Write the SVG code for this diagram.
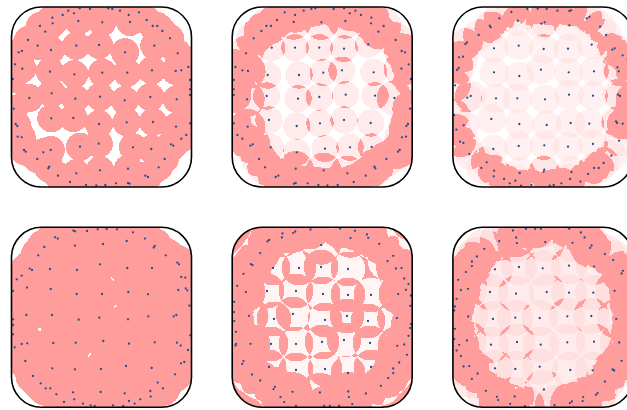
<svg xmlns="http://www.w3.org/2000/svg" width="627" height="410" viewBox="0 0 627 410">
<style>
.fr{fill:none;stroke:#000;stroke-width:1.6}
.cv circle{fill:#000;fill-opacity:.32}
.r14 circle{r:14px}
.r145 circle{r:14.5px}
.r15 circle{r:15px}
.r178 circle{r:17.8px}
.r18 circle{r:18px}
.r185 circle{r:18.5px}
.b16 circle{r:16px}
.b18 circle{r:18px}
.b20 circle{r:20px}
.pk{fill:#ff9c9c}
.dt{fill:none;stroke:#24508f;stroke-width:2.3;stroke-linecap:round}
</style>
<defs>
<clipPath id="cl"><rect width="180" height="180" rx="30"/></clipPath>
<filter id="f1" color-interpolation-filters="sRGB"><feComponentTransfer in="SourceAlpha" result="a"><feFuncA type="discrete" tableValues="0 0 0 0 0 0 1 1 1 1 1 1 1 1 1 1 1 1 1 1"/></feComponentTransfer><feFlood flood-color="#ff9c9c"/><feComposite in2="a" operator="in"/></filter>
<filter id="f2" color-interpolation-filters="sRGB"><feComponentTransfer in="SourceAlpha" result="a"><feFuncA type="discrete" tableValues="0 0 0 0 0 0 .2 .2 .2 .2 1 1 1 1 1 1 1 1 1 1"/></feComponentTransfer><feFlood flood-color="#ff9c9c"/><feComposite in2="a" operator="in"/></filter>
<filter id="f3" color-interpolation-filters="sRGB"><feComponentTransfer in="SourceAlpha" result="a"><feFuncA type="discrete" tableValues="0 0 0 0 0 0 .14 .14 .14 .14 .25 .25 .25 1 1 1 1 1 1 1"/></feComponentTransfer><feFlood flood-color="#ff9c9c"/><feComposite in2="a" operator="in"/></filter>
<filter id="f5" color-interpolation-filters="sRGB"><feComponentTransfer in="SourceAlpha" result="a"><feFuncA type="discrete" tableValues="0 0 0 0 0 0 1 1 1 1 0 0 0 0 0 0 0 0 0 0"/></feComponentTransfer><feFlood flood-color="#fff5f5"/><feComposite in2="a" operator="in"/></filter>
<filter id="f6" color-interpolation-filters="sRGB"><feComponentTransfer in="SourceAlpha" result="a"><feFuncA type="discrete" tableValues="0 0 0 0 0 0 .2 .2 .2 .2 .32 .32 .32 1 1 1 1 1 1 1"/></feComponentTransfer><feFlood flood-color="#ff9c9c"/><feComposite in2="a" operator="in"/></filter>
<path id="bd" class="dt" d="M68.2 1.3h0M78.5 2h0M96.8 1.3h0M100.8 2h0M108.5 3.7h0M117.2 8h0M127.5 5.3h0M56.8 3.7h0M62.5 6.3h0M51.2 8h0M40.8 10.7h0M41.2 16.3h0M66.8 14h0M90.8 15.3h0M118.5 15h0M135.2 13h0M141.2 19h0M145.8 19h0M150.8 24h0M28.5 19h0M33.8 24.7h0M16.5 33h0M158.5 31.3h0M166.2 46.3h0M7.2 45.3h0M10.5 44h0M3.5 57.3h0M10.8 61.7h0M1.2 72h0M164.2 64h0M169.8 63.3h0M176.8 60h0M178.5 73h0M178.5 82.3h0M178.5 88h0M17.8 91h0M165.2 92.3h0M2.2 101.7h0M4.2 117h0M5.8 119h0M164.5 119.7h0M178.5 116.3h0M6.2 129.7h0M10.2 130.3h0M12.5 143h0M14.2 144.7h0M25.8 152h0M159.5 137.3h0M161.8 138.7h0M169.8 131.7h0M174.8 128h0M37.8 159.7h0M36.8 161.3h0M46.5 168.7h0M64.8 166.3h0M88.5 163.3h0M116.5 161.7h0M147.2 160.3h0M153.2 152h0M133.8 168.7h0M136.5 170h0M58.5 175h0M74.5 178h0M84.8 178.3h0M93.8 178h0M104.5 176.3h0M116.5 176h0M118.2 176.7h0"/>
</defs>

<g id="panel-1" transform="translate(11.5,7)">
<g clip-path="url(#cl)">
<g class="cv r145" filter="url(#f1)">
<circle cx="26.2" cy="38.7"/><circle cx="39.5" cy="43"/><circle cx="64.8" cy="38.7"/><circle cx="87.5" cy="38"/><circle cx="113.5" cy="45.3"/><circle cx="142.8" cy="38.7"/><circle cx="38.5" cy="64.7"/><circle cx="62.8" cy="67.3"/><circle cx="90.8" cy="65.7"/><circle cx="115.8" cy="65.7"/><circle cx="140.5" cy="63.3"/><circle cx="40.2" cy="86.3"/><circle cx="63.8" cy="91.7"/><circle cx="88.5" cy="89.7"/><circle cx="113.2" cy="93.3"/><circle cx="138.8" cy="90"/><circle cx="39.8" cy="111.3"/><circle cx="61.8" cy="111"/><circle cx="87.5" cy="117"/><circle cx="115.2" cy="115.3"/><circle cx="141.5" cy="115"/><circle cx="31.8" cy="145.3"/><circle cx="39.2" cy="143"/><circle cx="68.5" cy="139.7"/><circle cx="87.2" cy="136.7"/><circle cx="121.5" cy="140.3"/><circle cx="139.8" cy="142"/>
<g><circle cx="68.2" cy="1.3"/><circle cx="78.5" cy="2"/><circle cx="96.8" cy="1.3"/><circle cx="100.8" cy="2"/><circle cx="108.5" cy="3.7"/><circle cx="117.2" cy="8"/><circle cx="127.5" cy="5.3"/><circle cx="56.8" cy="3.7"/><circle cx="62.5" cy="6.3"/><circle cx="51.2" cy="8"/><circle cx="40.8" cy="10.7"/><circle cx="41.2" cy="16.3"/><circle cx="66.8" cy="14"/><circle cx="90.8" cy="15.3"/><circle cx="118.5" cy="15"/><circle cx="135.2" cy="13"/><circle cx="141.2" cy="19"/><circle cx="145.8" cy="19"/><circle cx="150.8" cy="24"/><circle cx="28.5" cy="19"/><circle cx="33.8" cy="24.7"/><circle cx="16.5" cy="33"/><circle cx="158.5" cy="31.3"/><circle cx="166.2" cy="46.3"/><circle cx="7.2" cy="45.3"/><circle cx="10.5" cy="44"/><circle cx="3.5" cy="57.3"/><circle cx="10.8" cy="61.7"/><circle cx="1.2" cy="72"/><circle cx="164.2" cy="64"/><circle cx="169.8" cy="63.3"/><circle cx="176.8" cy="60"/><circle cx="178.5" cy="73"/><circle cx="178.5" cy="82.3"/><circle cx="178.5" cy="88"/><circle cx="17.8" cy="91"/><circle cx="165.2" cy="92.3"/><circle cx="2.2" cy="101.7"/><circle cx="4.2" cy="117"/><circle cx="5.8" cy="119"/><circle cx="164.5" cy="119.7"/><circle cx="178.5" cy="116.3"/><circle cx="6.2" cy="129.7"/><circle cx="10.2" cy="130.3"/><circle cx="12.5" cy="143"/><circle cx="14.2" cy="144.7"/><circle cx="25.8" cy="152"/><circle cx="159.5" cy="137.3"/><circle cx="161.8" cy="138.7"/><circle cx="169.8" cy="131.7"/><circle cx="174.8" cy="128"/><circle cx="37.8" cy="159.7"/><circle cx="36.8" cy="161.3"/><circle cx="46.5" cy="168.7"/><circle cx="64.8" cy="166.3"/><circle cx="88.5" cy="163.3"/><circle cx="116.5" cy="161.7"/><circle cx="147.2" cy="160.3"/><circle cx="153.2" cy="152"/><circle cx="133.8" cy="168.7"/><circle cx="136.5" cy="170"/><circle cx="58.5" cy="175"/><circle cx="74.5" cy="178"/><circle cx="84.8" cy="178.3"/><circle cx="93.8" cy="178"/><circle cx="104.5" cy="176.3"/><circle cx="116.5" cy="176"/><circle cx="118.2" cy="176.7"/></g>
</g>
<path class="dt" d="M26.2 38.7h0M39.5 43h0M64.8 38.7h0M87.5 38h0M113.5 45.3h0M142.8 38.7h0M38.5 64.7h0M62.8 67.3h0M90.8 65.7h0M115.8 65.7h0M140.5 63.3h0M40.2 86.3h0M63.8 91.7h0M88.5 89.7h0M113.2 93.3h0M138.8 90h0M39.8 111.3h0M61.8 111h0M87.5 117h0M115.2 115.3h0M141.5 115h0M31.8 145.3h0M39.2 143h0M68.5 139.7h0M87.2 136.7h0M121.5 140.3h0M139.8 142h0"/>
<use href="#bd"/>
</g>
<rect class="fr" width="180" height="180" rx="30"/>
</g>

<g id="panel-2" transform="translate(232.2,7)">
<g clip-path="url(#cl)">
<g class="cv r14" filter="url(#f2)">
<circle cx="39.5" cy="40.7"/><circle cx="62.8" cy="40.7"/><circle cx="87.1" cy="40.7"/><circle cx="111.8" cy="41.7"/><circle cx="136.1" cy="37.3"/><circle cx="35.5" cy="68"/><circle cx="66.8" cy="68"/><circle cx="91.1" cy="65.7"/><circle cx="109.8" cy="63.3"/><circle cx="141.5" cy="65.3"/><circle cx="34.5" cy="89"/><circle cx="65.8" cy="91.7"/><circle cx="87.1" cy="90"/><circle cx="113.5" cy="87.7"/><circle cx="142.8" cy="88.7"/><circle cx="36.8" cy="113"/><circle cx="64.5" cy="119"/><circle cx="87.8" cy="116.3"/><circle cx="111.8" cy="113"/><circle cx="138.5" cy="116"/><circle cx="38.5" cy="140.3"/><circle cx="64.5" cy="145.3"/><circle cx="92.8" cy="141.7"/><circle cx="117.8" cy="140.3"/><circle cx="139.5" cy="140"/>
<g class="b18" transform="matrix(-1 0 0 1 180 0)"><circle cx="68.2" cy="1.3"/><circle cx="78.5" cy="2"/><circle cx="96.8" cy="1.3"/><circle cx="100.8" cy="2"/><circle cx="108.5" cy="3.7"/><circle cx="117.2" cy="8"/><circle cx="127.5" cy="5.3"/><circle cx="56.8" cy="3.7"/><circle cx="62.5" cy="6.3"/><circle cx="51.2" cy="8"/><circle cx="40.8" cy="10.7"/><circle cx="41.2" cy="16.3"/><circle cx="66.8" cy="14"/><circle cx="90.8" cy="15.3"/><circle cx="118.5" cy="15"/><circle cx="135.2" cy="13"/><circle cx="141.2" cy="19"/><circle cx="145.8" cy="19"/><circle cx="150.8" cy="24"/><circle cx="28.5" cy="19"/><circle cx="33.8" cy="24.7"/><circle cx="16.5" cy="33"/><circle cx="158.5" cy="31.3"/><circle cx="166.2" cy="46.3"/><circle cx="7.2" cy="45.3"/><circle cx="10.5" cy="44"/><circle cx="3.5" cy="57.3"/><circle cx="10.8" cy="61.7"/><circle cx="1.2" cy="72"/><circle cx="164.2" cy="64"/><circle cx="169.8" cy="63.3"/><circle cx="176.8" cy="60"/><circle cx="178.5" cy="73"/><circle cx="178.5" cy="82.3"/><circle cx="178.5" cy="88"/><circle cx="17.8" cy="91"/><circle cx="165.2" cy="92.3"/><circle cx="2.2" cy="101.7"/><circle cx="4.2" cy="117"/><circle cx="5.8" cy="119"/><circle cx="164.5" cy="119.7"/><circle cx="178.5" cy="116.3"/><circle cx="6.2" cy="129.7"/><circle cx="10.2" cy="130.3"/><circle cx="12.5" cy="143"/><circle cx="14.2" cy="144.7"/><circle cx="25.8" cy="152"/><circle cx="159.5" cy="137.3"/><circle cx="161.8" cy="138.7"/><circle cx="169.8" cy="131.7"/><circle cx="174.8" cy="128"/><circle cx="37.8" cy="159.7"/><circle cx="36.8" cy="161.3"/><circle cx="46.5" cy="168.7"/><circle cx="64.8" cy="166.3"/><circle cx="88.5" cy="163.3"/><circle cx="116.5" cy="161.7"/><circle cx="147.2" cy="160.3"/><circle cx="153.2" cy="152"/><circle cx="133.8" cy="168.7"/><circle cx="136.5" cy="170"/><circle cx="58.5" cy="175"/><circle cx="74.5" cy="178"/><circle cx="84.8" cy="178.3"/><circle cx="93.8" cy="178"/><circle cx="104.5" cy="176.3"/><circle cx="116.5" cy="176"/><circle cx="118.2" cy="176.7"/></g>
</g>
<path class="dt" d="M39.5 40.7h0M62.8 40.7h0M87.1 40.7h0M111.8 41.7h0M136.1 37.3h0M35.5 68h0M66.8 68h0M91.1 65.7h0M109.8 63.3h0M141.5 65.3h0M34.5 89h0M65.8 91.7h0M87.1 90h0M113.5 87.7h0M142.8 88.7h0M36.8 113h0M64.5 119h0M87.8 116.3h0M111.8 113h0M138.5 116h0M38.5 140.3h0M64.5 145.3h0M92.8 141.7h0M117.8 140.3h0M139.5 140h0"/>
<use href="#bd" transform="matrix(-1 0 0 1 180 0)"/>
</g>
<rect class="fr" width="180" height="180" rx="30"/>
</g>

<g id="panel-3" transform="translate(452.9,7)">
<g clip-path="url(#cl)">
<g class="cv r15" filter="url(#f3)">
<circle cx="91.8" cy="15.3"/><circle cx="41.1" cy="41.3"/><circle cx="65.8" cy="38.7"/><circle cx="90.8" cy="42"/><circle cx="115.1" cy="41.7"/><circle cx="138.8" cy="37.7"/><circle cx="41.1" cy="65.3"/><circle cx="66.4" cy="69"/><circle cx="88.1" cy="62.7"/><circle cx="115.8" cy="65.3"/><circle cx="141.1" cy="64.3"/><circle cx="165.8" cy="64.3"/><circle cx="14.4" cy="90.7"/><circle cx="43.1" cy="91.3"/><circle cx="64.4" cy="91.3"/><circle cx="92.1" cy="92.3"/><circle cx="116.1" cy="87.7"/><circle cx="140.1" cy="88.7"/><circle cx="167.1" cy="89"/><circle cx="38.4" cy="112"/><circle cx="66.4" cy="117"/><circle cx="93.8" cy="118"/><circle cx="117.8" cy="116"/><circle cx="136.4" cy="116.7"/><circle cx="163.1" cy="114.3"/><circle cx="40.4" cy="142"/><circle cx="65.8" cy="139"/><circle cx="91.4" cy="138.3"/><circle cx="115.1" cy="139.7"/><circle cx="140.1" cy="137"/><circle cx="91.4" cy="162.7"/>
<g class="b16" transform="matrix(1 0 0 -1 0 180)"><circle cx="68.2" cy="1.3"/><circle cx="78.5" cy="2"/><circle cx="96.8" cy="1.3"/><circle cx="100.8" cy="2"/><circle cx="108.5" cy="3.7"/><circle cx="117.2" cy="8"/><circle cx="127.5" cy="5.3"/><circle cx="56.8" cy="3.7"/><circle cx="62.5" cy="6.3"/><circle cx="51.2" cy="8"/><circle cx="40.8" cy="10.7"/><circle cx="41.2" cy="16.3"/><circle cx="66.8" cy="14"/><circle cx="90.8" cy="15.3"/><circle cx="118.5" cy="15"/><circle cx="135.2" cy="13"/><circle cx="141.2" cy="19"/><circle cx="145.8" cy="19"/><circle cx="150.8" cy="24"/><circle cx="28.5" cy="19"/><circle cx="33.8" cy="24.7"/><circle cx="16.5" cy="33"/><circle cx="158.5" cy="31.3"/><circle cx="166.2" cy="46.3"/><circle cx="7.2" cy="45.3"/><circle cx="10.5" cy="44"/><circle cx="3.5" cy="57.3"/><circle cx="10.8" cy="61.7"/><circle cx="1.2" cy="72"/><circle cx="164.2" cy="64"/><circle cx="169.8" cy="63.3"/><circle cx="176.8" cy="60"/><circle cx="178.5" cy="73"/><circle cx="178.5" cy="82.3"/><circle cx="178.5" cy="88"/><circle cx="17.8" cy="91"/><circle cx="165.2" cy="92.3"/><circle cx="2.2" cy="101.7"/><circle cx="4.2" cy="117"/><circle cx="5.8" cy="119"/><circle cx="164.5" cy="119.7"/><circle cx="178.5" cy="116.3"/><circle cx="6.2" cy="129.7"/><circle cx="10.2" cy="130.3"/><circle cx="12.5" cy="143"/><circle cx="14.2" cy="144.7"/><circle cx="25.8" cy="152"/><circle cx="159.5" cy="137.3"/><circle cx="161.8" cy="138.7"/><circle cx="169.8" cy="131.7"/><circle cx="174.8" cy="128"/><circle cx="37.8" cy="159.7"/><circle cx="36.8" cy="161.3"/><circle cx="46.5" cy="168.7"/><circle cx="64.8" cy="166.3"/><circle cx="88.5" cy="163.3"/><circle cx="116.5" cy="161.7"/><circle cx="147.2" cy="160.3"/><circle cx="153.2" cy="152"/><circle cx="133.8" cy="168.7"/><circle cx="136.5" cy="170"/><circle cx="58.5" cy="175"/><circle cx="74.5" cy="178"/><circle cx="84.8" cy="178.3"/><circle cx="93.8" cy="178"/><circle cx="104.5" cy="176.3"/><circle cx="116.5" cy="176"/><circle cx="118.2" cy="176.7"/></g>
</g>
<path class="dt" d="M91.8 15.3h0M41.1 41.3h0M65.8 38.7h0M90.8 42h0M115.1 41.7h0M138.8 37.7h0M41.1 65.3h0M66.4 69h0M88.1 62.7h0M115.8 65.3h0M141.1 64.3h0M165.8 64.3h0M14.4 90.7h0M43.1 91.3h0M64.4 91.3h0M92.1 92.3h0M116.1 87.7h0M140.1 88.7h0M167.1 89h0M38.4 112h0M66.4 117h0M93.8 118h0M117.8 116h0M136.4 116.7h0M163.1 114.3h0M40.4 142h0M65.8 139h0M91.4 138.3h0M115.1 139.7h0M140.1 137h0M91.4 162.7h0"/>
<use href="#bd" transform="matrix(1 0 0 -1 0 180)"/>
</g>
<rect class="fr" width="180" height="180" rx="30"/>
</g>

<g id="panel-4" transform="translate(11.5,227.3)">
<g clip-path="url(#cl)">
<g class="cv r18" filter="url(#f1)">
<circle cx="38.5" cy="41.7"/><circle cx="65.5" cy="42.7"/><circle cx="88.5" cy="37"/><circle cx="115.8" cy="40.7"/><circle cx="140.5" cy="40.7"/><circle cx="39.2" cy="61.7"/><circle cx="65.2" cy="66.7"/><circle cx="90.5" cy="66.7"/><circle cx="116.8" cy="64.7"/><circle cx="136.5" cy="67"/><circle cx="166.8" cy="62.7"/><circle cx="40.5" cy="87.7"/><circle cx="67.2" cy="92.4"/><circle cx="87.8" cy="90.4"/><circle cx="116.5" cy="92"/><circle cx="136.8" cy="89"/><circle cx="164.8" cy="87.7"/><circle cx="41.8" cy="115.7"/><circle cx="64.2" cy="115.4"/><circle cx="91.8" cy="113.7"/><circle cx="117.5" cy="116.4"/><circle cx="143.2" cy="115"/><circle cx="165.5" cy="115.4"/><circle cx="40.8" cy="141"/><circle cx="63.5" cy="142"/><circle cx="89.5" cy="141.7"/><circle cx="114.5" cy="138.7"/><circle cx="140.2" cy="140.7"/>
<g transform="matrix(-1 0 0 -1 180 180)"><circle cx="68.2" cy="1.3"/><circle cx="78.5" cy="2"/><circle cx="96.8" cy="1.3"/><circle cx="100.8" cy="2"/><circle cx="108.5" cy="3.7"/><circle cx="117.2" cy="8"/><circle cx="127.5" cy="5.3"/><circle cx="56.8" cy="3.7"/><circle cx="62.5" cy="6.3"/><circle cx="51.2" cy="8"/><circle cx="40.8" cy="10.7"/><circle cx="41.2" cy="16.3"/><circle cx="66.8" cy="14"/><circle cx="90.8" cy="15.3"/><circle cx="118.5" cy="15"/><circle cx="135.2" cy="13"/><circle cx="141.2" cy="19"/><circle cx="145.8" cy="19"/><circle cx="150.8" cy="24"/><circle cx="28.5" cy="19"/><circle cx="33.8" cy="24.7"/><circle cx="16.5" cy="33"/><circle cx="158.5" cy="31.3"/><circle cx="166.2" cy="46.3"/><circle cx="7.2" cy="45.3"/><circle cx="10.5" cy="44"/><circle cx="3.5" cy="57.3"/><circle cx="10.8" cy="61.7"/><circle cx="1.2" cy="72"/><circle cx="164.2" cy="64"/><circle cx="169.8" cy="63.3"/><circle cx="176.8" cy="60"/><circle cx="178.5" cy="73"/><circle cx="178.5" cy="82.3"/><circle cx="178.5" cy="88"/><circle cx="17.8" cy="91"/><circle cx="165.2" cy="92.3"/><circle cx="2.2" cy="101.7"/><circle cx="4.2" cy="117"/><circle cx="5.8" cy="119"/><circle cx="164.5" cy="119.7"/><circle cx="178.5" cy="116.3"/><circle cx="6.2" cy="129.7"/><circle cx="10.2" cy="130.3"/><circle cx="12.5" cy="143"/><circle cx="14.2" cy="144.7"/><circle cx="25.8" cy="152"/><circle cx="159.5" cy="137.3"/><circle cx="161.8" cy="138.7"/><circle cx="169.8" cy="131.7"/><circle cx="174.8" cy="128"/><circle cx="37.8" cy="159.7"/><circle cx="36.8" cy="161.3"/><circle cx="46.5" cy="168.7"/><circle cx="64.8" cy="166.3"/><circle cx="88.5" cy="163.3"/><circle cx="116.5" cy="161.7"/><circle cx="147.2" cy="160.3"/><circle cx="153.2" cy="152"/><circle cx="133.8" cy="168.7"/><circle cx="136.5" cy="170"/><circle cx="58.5" cy="175"/><circle cx="74.5" cy="178"/><circle cx="84.8" cy="178.3"/><circle cx="93.8" cy="178"/><circle cx="104.5" cy="176.3"/><circle cx="116.5" cy="176"/><circle cx="118.2" cy="176.7"/></g>
</g>
<path class="dt" d="M38.5 41.7h0M65.5 42.7h0M88.5 37h0M115.8 40.7h0M140.5 40.7h0M39.2 61.7h0M65.2 66.7h0M90.5 66.7h0M116.8 64.7h0M136.5 67h0M166.8 62.7h0M40.5 87.7h0M67.2 92.4h0M87.8 90.4h0M116.5 92h0M136.8 89h0M164.8 87.7h0M41.8 115.7h0M64.2 115.4h0M91.8 113.7h0M117.5 116.4h0M143.2 115h0M165.5 115.4h0M40.8 141h0M63.5 142h0M89.5 141.7h0M114.5 138.7h0M140.2 140.7h0"/>
<use href="#bd" transform="matrix(-1 0 0 -1 180 180)"/>
</g>
<rect class="fr" width="180" height="180" rx="30"/>
</g>

<g id="panel-5" transform="translate(232.2,227.3)">
<g clip-path="url(#cl)">
<rect class="pk" width="180" height="180"/>
<g class="cv r178" filter="url(#f5)">
<circle cx="40.8" cy="40.7"/><circle cx="66.8" cy="40.7"/><circle cx="88.8" cy="39.7"/><circle cx="115.8" cy="41.7"/><circle cx="34.8" cy="63.7"/><circle cx="63.8" cy="63.7"/><circle cx="90.8" cy="66.7"/><circle cx="115.8" cy="67.7"/><circle cx="138.8" cy="67.7"/><circle cx="41.8" cy="91.7"/><circle cx="60.8" cy="86.7"/><circle cx="92.8" cy="92.7"/><circle cx="114.8" cy="88.7"/><circle cx="135.8" cy="93.7"/><circle cx="38.8" cy="116.7"/><circle cx="63.8" cy="116.7"/><circle cx="89.8" cy="114.7"/><circle cx="111.8" cy="112.7"/><circle cx="137.8" cy="115.7"/><circle cx="36.8" cy="139.7"/><circle cx="63.8" cy="142.7"/><circle cx="92.8" cy="141.7"/><circle cx="115.8" cy="145.7"/><circle cx="138.8" cy="139.7"/>
<g class="b20" transform="rotate(90 90 90)"><circle cx="68.2" cy="1.3"/><circle cx="78.5" cy="2"/><circle cx="96.8" cy="1.3"/><circle cx="100.8" cy="2"/><circle cx="108.5" cy="3.7"/><circle cx="117.2" cy="8"/><circle cx="127.5" cy="5.3"/><circle cx="56.8" cy="3.7"/><circle cx="62.5" cy="6.3"/><circle cx="51.2" cy="8"/><circle cx="40.8" cy="10.7"/><circle cx="41.2" cy="16.3"/><circle cx="66.8" cy="14"/><circle cx="90.8" cy="15.3"/><circle cx="118.5" cy="15"/><circle cx="135.2" cy="13"/><circle cx="141.2" cy="19"/><circle cx="145.8" cy="19"/><circle cx="150.8" cy="24"/><circle cx="28.5" cy="19"/><circle cx="33.8" cy="24.7"/><circle cx="16.5" cy="33"/><circle cx="158.5" cy="31.3"/><circle cx="166.2" cy="46.3"/><circle cx="7.2" cy="45.3"/><circle cx="10.5" cy="44"/><circle cx="3.5" cy="57.3"/><circle cx="10.8" cy="61.7"/><circle cx="1.2" cy="72"/><circle cx="164.2" cy="64"/><circle cx="169.8" cy="63.3"/><circle cx="176.8" cy="60"/><circle cx="178.5" cy="73"/><circle cx="178.5" cy="82.3"/><circle cx="178.5" cy="88"/><circle cx="17.8" cy="91"/><circle cx="165.2" cy="92.3"/><circle cx="2.2" cy="101.7"/><circle cx="4.2" cy="117"/><circle cx="5.8" cy="119"/><circle cx="164.5" cy="119.7"/><circle cx="178.5" cy="116.3"/><circle cx="6.2" cy="129.7"/><circle cx="10.2" cy="130.3"/><circle cx="12.5" cy="143"/><circle cx="14.2" cy="144.7"/><circle cx="25.8" cy="152"/><circle cx="159.5" cy="137.3"/><circle cx="161.8" cy="138.7"/><circle cx="169.8" cy="131.7"/><circle cx="174.8" cy="128"/><circle cx="37.8" cy="159.7"/><circle cx="36.8" cy="161.3"/><circle cx="46.5" cy="168.7"/><circle cx="64.8" cy="166.3"/><circle cx="88.5" cy="163.3"/><circle cx="116.5" cy="161.7"/><circle cx="147.2" cy="160.3"/><circle cx="153.2" cy="152"/><circle cx="133.8" cy="168.7"/><circle cx="136.5" cy="170"/><circle cx="58.5" cy="175"/><circle cx="74.5" cy="178"/><circle cx="84.8" cy="178.3"/><circle cx="93.8" cy="178"/><circle cx="104.5" cy="176.3"/><circle cx="116.5" cy="176"/><circle cx="118.2" cy="176.7"/></g>
</g>
<path class="dt" d="M40.8 40.7h0M66.8 40.7h0M88.8 39.7h0M115.8 41.7h0M34.8 63.7h0M63.8 63.7h0M90.8 66.7h0M115.8 67.7h0M138.8 67.7h0M41.8 91.7h0M60.8 86.7h0M92.8 92.7h0M114.8 88.7h0M135.8 93.7h0M38.8 116.7h0M63.8 116.7h0M89.8 114.7h0M111.8 112.7h0M137.8 115.7h0M36.8 139.7h0M63.8 142.7h0M92.8 141.7h0M115.8 145.7h0M138.8 139.7h0"/>
<use href="#bd" transform="rotate(90 90 90)"/>
</g>
<rect class="fr" width="180" height="180" rx="30"/>
</g>

<g id="panel-6" transform="translate(452.9,227.3)">
<g clip-path="url(#cl)">
<g class="cv r185" filter="url(#f6)">
<circle cx="42.1" cy="42"/><circle cx="66.1" cy="39.7"/><circle cx="89.8" cy="41"/><circle cx="116.1" cy="38.4"/><circle cx="141.1" cy="39.4"/><circle cx="37.1" cy="64.7"/><circle cx="63.1" cy="66.4"/><circle cx="93.8" cy="64.7"/><circle cx="116.1" cy="65.4"/><circle cx="140.4" cy="65.4"/><circle cx="40.1" cy="91.7"/><circle cx="62.4" cy="90.4"/><circle cx="86.8" cy="90.7"/><circle cx="114.4" cy="89"/><circle cx="138.4" cy="88.7"/><circle cx="38.1" cy="117.4"/><circle cx="64.1" cy="114.7"/><circle cx="87.8" cy="117.4"/><circle cx="114.4" cy="115"/><circle cx="141.1" cy="114.4"/><circle cx="42.1" cy="141"/><circle cx="62.4" cy="141.7"/><circle cx="86.8" cy="139.4"/><circle cx="117.4" cy="142.7"/><circle cx="139.8" cy="143"/>
<g class="b20" transform="rotate(-90 90 90)"><circle cx="68.2" cy="1.3"/><circle cx="78.5" cy="2"/><circle cx="96.8" cy="1.3"/><circle cx="100.8" cy="2"/><circle cx="108.5" cy="3.7"/><circle cx="117.2" cy="8"/><circle cx="127.5" cy="5.3"/><circle cx="56.8" cy="3.7"/><circle cx="62.5" cy="6.3"/><circle cx="51.2" cy="8"/><circle cx="40.8" cy="10.7"/><circle cx="41.2" cy="16.3"/><circle cx="66.8" cy="14"/><circle cx="90.8" cy="15.3"/><circle cx="118.5" cy="15"/><circle cx="135.2" cy="13"/><circle cx="141.2" cy="19"/><circle cx="145.8" cy="19"/><circle cx="150.8" cy="24"/><circle cx="28.5" cy="19"/><circle cx="33.8" cy="24.7"/><circle cx="16.5" cy="33"/><circle cx="158.5" cy="31.3"/><circle cx="166.2" cy="46.3"/><circle cx="7.2" cy="45.3"/><circle cx="10.5" cy="44"/><circle cx="3.5" cy="57.3"/><circle cx="10.8" cy="61.7"/><circle cx="1.2" cy="72"/><circle cx="164.2" cy="64"/><circle cx="169.8" cy="63.3"/><circle cx="176.8" cy="60"/><circle cx="178.5" cy="73"/><circle cx="178.5" cy="82.3"/><circle cx="178.5" cy="88"/><circle cx="17.8" cy="91"/><circle cx="165.2" cy="92.3"/><circle cx="2.2" cy="101.7"/><circle cx="4.2" cy="117"/><circle cx="5.8" cy="119"/><circle cx="164.5" cy="119.7"/><circle cx="178.5" cy="116.3"/><circle cx="6.2" cy="129.7"/><circle cx="10.2" cy="130.3"/><circle cx="12.5" cy="143"/><circle cx="14.2" cy="144.7"/><circle cx="25.8" cy="152"/><circle cx="159.5" cy="137.3"/><circle cx="161.8" cy="138.7"/><circle cx="169.8" cy="131.7"/><circle cx="174.8" cy="128"/><circle cx="37.8" cy="159.7"/><circle cx="36.8" cy="161.3"/><circle cx="46.5" cy="168.7"/><circle cx="64.8" cy="166.3"/><circle cx="88.5" cy="163.3"/><circle cx="116.5" cy="161.7"/><circle cx="147.2" cy="160.3"/><circle cx="153.2" cy="152"/><circle cx="133.8" cy="168.7"/><circle cx="136.5" cy="170"/><circle cx="58.5" cy="175"/><circle cx="74.5" cy="178"/><circle cx="84.8" cy="178.3"/><circle cx="93.8" cy="178"/><circle cx="104.5" cy="176.3"/><circle cx="116.5" cy="176"/><circle cx="118.2" cy="176.7"/></g>
</g>
<path class="dt" d="M42.1 42h0M66.1 39.7h0M89.8 41h0M116.1 38.4h0M141.1 39.4h0M37.1 64.7h0M63.1 66.4h0M93.8 64.7h0M116.1 65.4h0M140.4 65.4h0M40.1 91.7h0M62.4 90.4h0M86.8 90.7h0M114.4 89h0M138.4 88.7h0M38.1 117.4h0M64.1 114.7h0M87.8 117.4h0M114.4 115h0M141.1 114.4h0M42.1 141h0M62.4 141.7h0M86.8 139.4h0M117.4 142.7h0M139.8 143h0"/>
<use href="#bd" transform="rotate(-90 90 90)"/>
</g>
<rect class="fr" width="180" height="180" rx="30"/>
</g>
</svg>
